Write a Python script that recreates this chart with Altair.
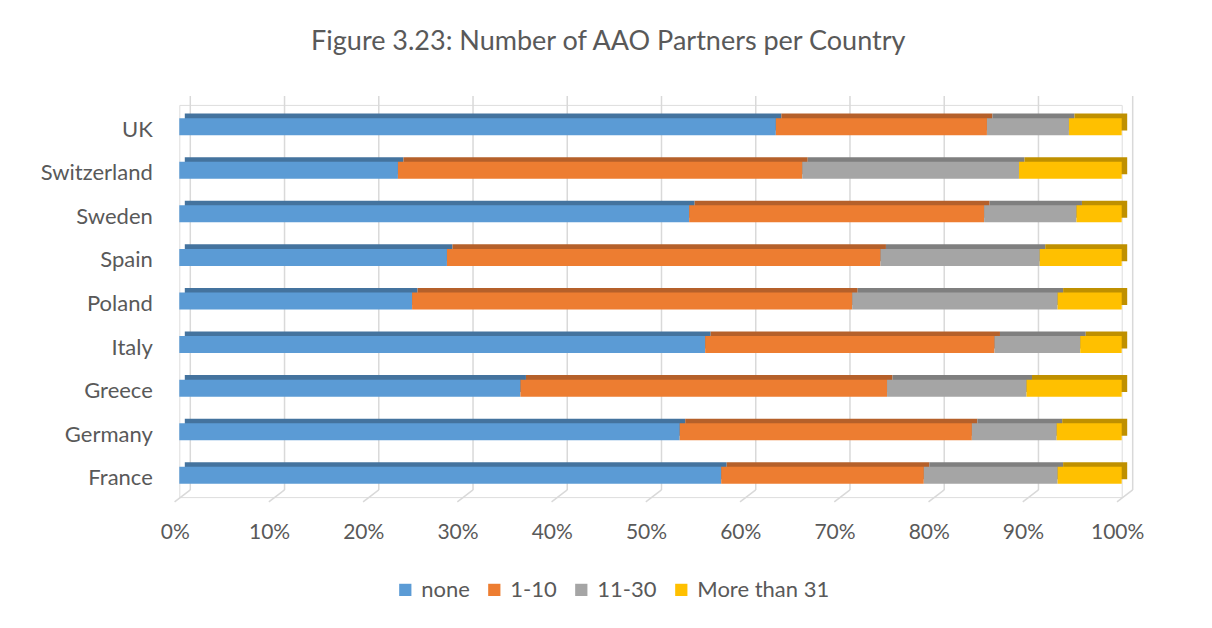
import altair as alt
import pandas as pd

countries = ["UK", "Switzerland", "Sweden", "Spain", "Poland", "Italy", "Greece", "Germany", "France"]
series = ["none", "1-10", "11-30", "More than 31"]
none_vals = [63.3, 23.2, 54.1, 28.4, 24.7, 55.8, 36.2, 53.1, 57.5]
v1_10 = [22.4, 42.9, 31.3, 46.0, 46.7, 30.7, 38.9, 31.0, 21.5]
v11_30 = [8.7, 23.0, 9.8, 16.9, 21.8, 9.1, 14.8, 9.0, 14.2]
v31 = [5.6, 10.9, 4.8, 8.7, 6.8, 4.4, 10.1, 6.9, 6.8]
tick_values = [0.0, 0.1, 0.2, 0.3, 0.4, 0.5, 0.6, 0.7, 0.8, 0.9, 1.0]
title_text = "Figure 3.23: Number of AAO Partners per Country"

front_colors = ["#5B9BD5", "#ED7D31", "#A5A5A5", "#FFC000"]
dark_colors = ["#44739E", "#B5602A", "#7F7F7F", "#BF9000"]

rows = []
for i, c in enumerate(countries):
    for j, (s, vals) in enumerate(zip(series, [none_vals, v1_10, v11_30, v31])):
        rows.append({"country": c, "series": s, "shade": s + " ", "idx": j, "value": vals[i]})
df = pd.DataFrame(rows)
ticks = pd.DataFrame({"t": tick_values})

FONT = "Lato"
TXT = "#595959"

xscale = alt.Scale(domain=[0, 1], nice=False, zero=True)
yscale = alt.Scale(domain=countries, paddingInner=0.61, paddingOuter=0.305)

grid = alt.Chart(ticks).mark_rule(color="#D9D9D9", strokeWidth=1.5, xOffset=11).encode(
    x=alt.X("t:Q", scale=xscale,
            axis=alt.Axis(values=tick_values, format=".0%", grid=False, domain=False, ticks=False,
                          labelFontSize=21, labelColor=TXT, labelFont=FONT, labelPadding=24,
                          labelOffset=-4.5, labelFlush=False, title=None)),
    y=alt.value(-9),
    y2=alt.value(385),
)
floor = alt.Chart(ticks).mark_rule(color="#D9D9D9", strokeWidth=1.5, xOffset=11, x2Offset=-4.7).encode(
    x=alt.X("t:Q", scale=xscale),
    x2="t:Q",
    y=alt.value(385),
    y2=alt.value(397),
)

back = alt.Chart(df).mark_bar(xOffset=5.5, x2Offset=5.5, yOffset=-4.6).encode(
    x=alt.X("value:Q", stack="normalize", scale=xscale),
    y=alt.Y("country:N", scale=yscale, sort=countries),
    fill=alt.Fill("shade:N", scale=alt.Scale(domain=[s + " " for s in series], range=dark_colors), legend=None),
    order=alt.Order("idx:Q"),
)

front = alt.Chart(df).mark_bar().encode(
    x=alt.X("value:Q", stack="normalize", scale=xscale),
    y=alt.Y("country:N", scale=yscale, sort=countries,
            axis=alt.Axis(domain=False, ticks=False, grid=False, labelFontSize=22, labelColor=TXT,
                          labelFont=FONT, labelPadding=27, labelOffset=3, title=None)),
    color=alt.Color("series:N", scale=alt.Scale(domain=series, range=front_colors),
                    legend=alt.Legend(title=None, orient="none", direction="horizontal",
                                      legendX=215, legendY=474, symbolType="square", symbolSize=150,
                                      symbolStrokeWidth=0, labelFontSize=22, labelColor=TXT,
                                      labelFont=FONT, columnPadding=13, labelOffset=5)),
    order=alt.Order("idx:Q"),
)

title = alt.Chart(pd.DataFrame({"t": [title_text]})).mark_text(
    fontSize=27, font=FONT, color=TXT, baseline="middle", align="center"
).encode(x=alt.value(429), y=alt.value(-63), text="t:N")

chart = alt.layer(grid, floor, back, front, title).resolve_scale(
    color="independent", fill="independent"
).properties(
    width=942.4, height=392.2,
    autosize=alt.AutoSizeParams(type="none"),
    padding={"left": 171.3, "top": 96.9, "right": 82.3, "bottom": 122.9},
).configure_view(stroke=None).configure(background="white")

chart.save("out.html", embed_options={"renderer": "svg", "actions": False})
